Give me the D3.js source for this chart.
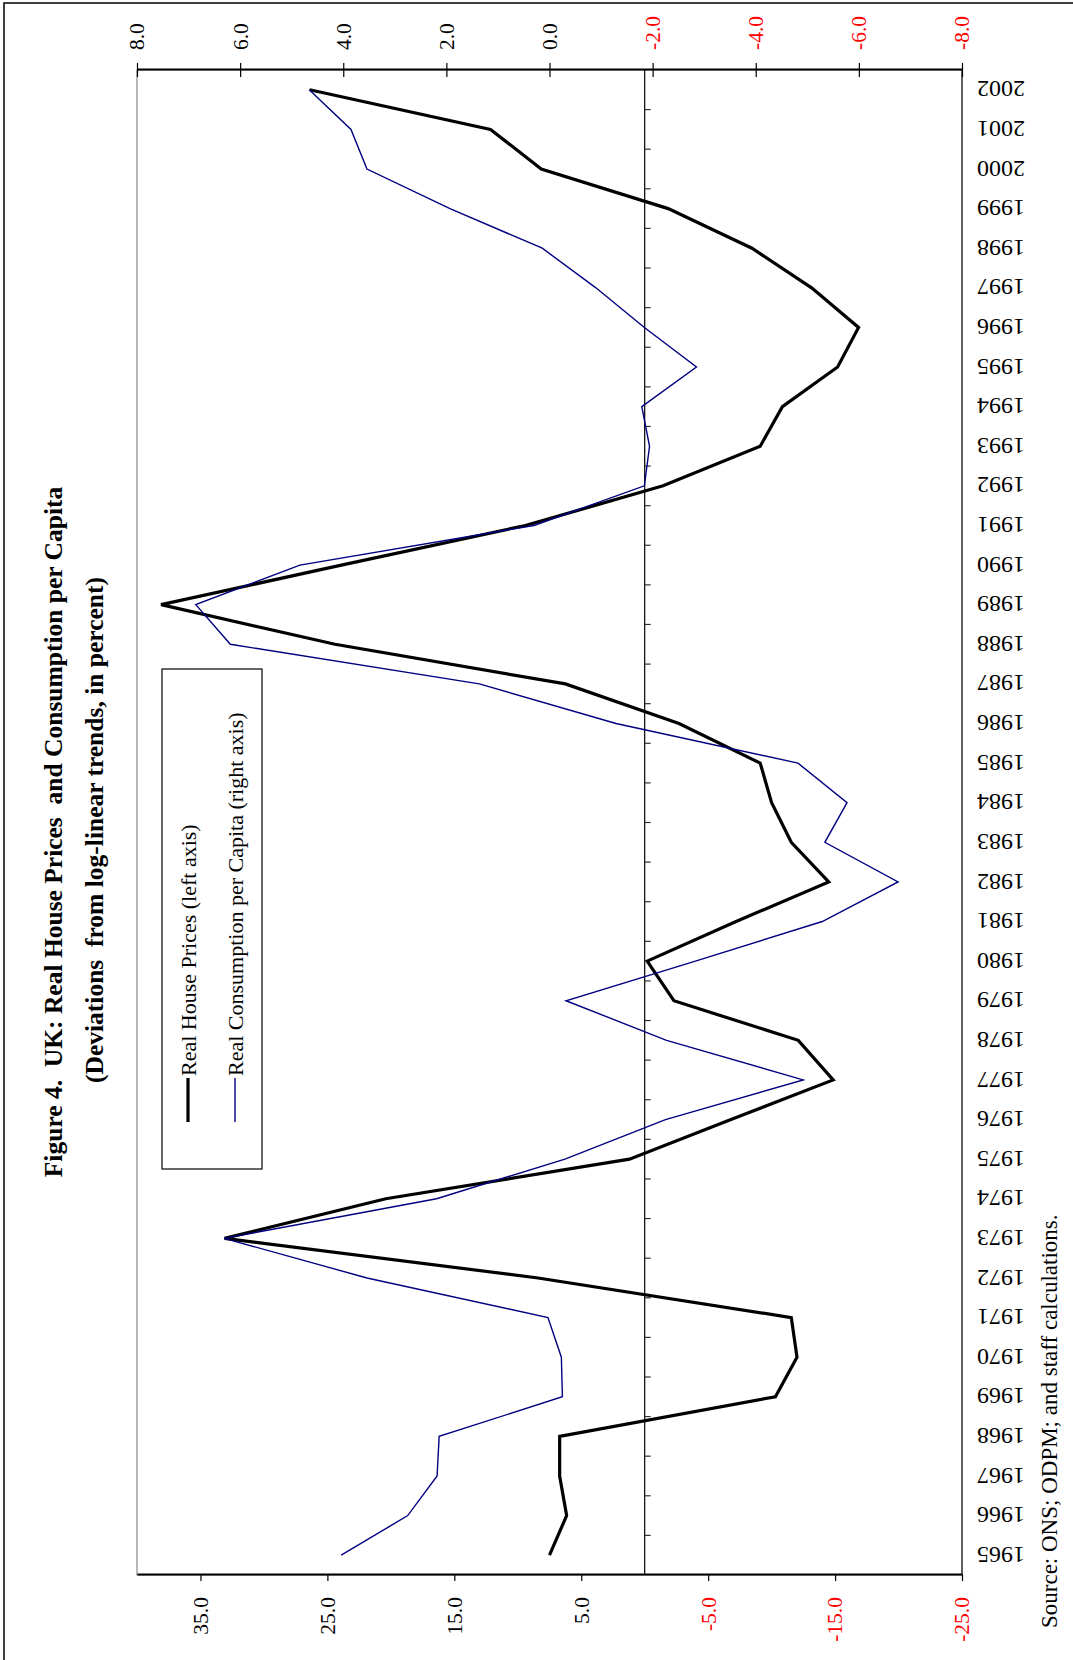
<!DOCTYPE html>
<html>
<head>
<meta charset="utf-8">
<script src="https://cdn.jsdelivr.net/npm/d3@7"></script>
<style>
body { margin: 0; background: #fff; }
text { font-family: "Liberation Serif", "Times New Roman", serif; }
</style>
</head>
<body>
<script>
// years on the category axis
var years = d3.range(1965, 2003);

// real house prices, deviation from trend (left axis)
var housePrices = [7.5, 6.15, 6.7, 6.7, -10.3, -12.0, -11.55, 8.4, 33.1, 20.4,
  1.2, -6.8, -14.85, -12.1, -2.3, -0.2, -7.2, -14.5, -11.55, -10.0,
  -9.1, -2.7, 6.25, 24.4, 38.1, 23.9, 9.4, -1.45, -9.1, -10.85,
  -15.2, -16.85, -13.15, -8.45, -1.85, 8.15, 12.15, 26.4];

// real consumption per capita, deviation from trend (right axis)
var consumption = [4.04, 2.75, 2.18, 2.14, -0.25, -0.23, 0.03, 3.54, 6.31, 2.19,
  -0.3, -2.25, -4.92, -2.27, -0.32, -2.83, -5.29, -6.76, -5.34, -5.77,
  -4.82, -1.29, 1.36, 6.19, 6.86, 4.84, 0.3, -1.84, -1.94, -1.79,
  -2.85, -1.84, -0.9, 0.14, 1.93, 3.54, 3.85, 4.66];

var leftTicks = [35, 25, 15, 5, -5, -15, -25];
var rightTicks = [8, 6, 4, 2, 0, -2, -4, -6, -8];

var width = 1073, height = 1660;
// the chart is laid out landscape, then turned a quarter turn on the page
var W = height, H = width;
var m = {left: 85, right: 70, top: 137, bottom: 111};

var svg = d3.select('body').append('svg')
   .attr('width', width)
   .attr('height', height);

svg.append('rect')
   .attr('x', 4).attr('y', 3)
   .attr('width', width + 20).attr('height', height + 20)
   .attr('fill', 'none').attr('stroke', '#000').attr('stroke-width', 1.5);

var g = svg.append('g')
   .attr('transform', 'translate(0,' + height + ') rotate(-90)');

var x = d3.scaleBand().domain(years).range([m.left, W - m.right]);
var bw = x.bandwidth();
var yL = d3.scaleLinear().domain([-25, 40]).range([H - m.bottom, m.top]);
var yR = d3.scaleLinear().domain([-8, 8]).range([H - m.bottom, m.top]);
function cx(d) { return x(d) + bw / 2; }

// plot frame
g.append('rect')
   .attr('x', m.left).attr('y', m.top)
   .attr('width', W - m.left - m.right).attr('height', H - m.top - m.bottom)
   .attr('fill', '#fff').attr('stroke', '#888').attr('stroke-width', 1.2);
g.append('line')
   .attr('x1', m.left).attr('x2', W - m.right)
   .attr('y1', H - m.bottom).attr('y2', H - m.bottom)
   .attr('stroke', '#444').attr('stroke-width', 1.5);

// zero line with category ticks
g.append('line')
   .attr('x1', m.left).attr('x2', W - m.right)
   .attr('y1', yL(0)).attr('y2', yL(0))
   .attr('stroke', '#000').attr('stroke-width', 1.2);
g.selectAll('line.ytick')
   .data(years.slice(1))
   .enter().append('line')
   .attr('class', 'ytick')
   .attr('x1', function(d) { return x(d); })
   .attr('x2', function(d) { return x(d); })
   .attr('y1', yL(0)).attr('y2', yL(0) + 6)
   .attr('stroke', '#333').attr('stroke-width', 1.2);

// year labels
g.selectAll('text.year')
   .data(years)
   .enter().append('text')
   .attr('class', 'year')
   .attr('transform', function(d) { return 'translate(' + cx(d) + ',' + (H - m.bottom + 15) + ') rotate(-90)'; })
   .attr('text-anchor', 'end')
   .attr('dy', '0.35em')
   .attr('font-size', 24)
   .text(function(d) { return d; });

function fmt(d) { return d.toFixed(1); }
function tickColor(d) { return d < 0 ? '#ff0000' : '#000'; }

// left axis
var axL = g.append('g')
   .attr('transform', 'translate(' + m.left + ',0)')
   .call(d3.axisLeft(yL).tickValues(leftTicks).tickSize(6).tickSizeOuter(0).tickPadding(16).tickFormat(fmt));
axL.select('.domain').attr('stroke', '#000').attr('stroke-width', 2.2);
axL.selectAll('.tick line').attr('stroke', '#000').attr('stroke-width', 1.2);
axL.selectAll('.tick text')
   .attr('font-size', 21.5).attr('font-family', '"Liberation Serif", serif')
   .attr('fill', tickColor);

// right axis
var axR = g.append('g')
   .attr('transform', 'translate(' + (W - m.right) + ',0)')
   .call(d3.axisRight(yR).tickValues(rightTicks).tickSize(7).tickSizeOuter(0).tickPadding(13).tickFormat(fmt));
axR.select('.domain').attr('stroke', '#000').attr('stroke-width', 2.2);
axR.selectAll('.tick line').attr('x1', -7).attr('stroke', '#000').attr('stroke-width', 1.2);
axR.selectAll('.tick text')
   .attr('font-size', 21.5).attr('font-family', '"Liberation Serif", serif')
   .attr('fill', tickColor);

// series
var lineL = d3.line()
   .x(function(d, i) { return cx(years[i]); })
   .y(function(d) { return yL(d); });
var lineR = d3.line()
   .x(function(d, i) { return cx(years[i]); })
   .y(function(d) { return yR(d); });

g.append('path')
   .datum(housePrices)
   .attr('d', lineL)
   .attr('fill', 'none').attr('stroke', '#000').attr('stroke-width', 3.2);
g.append('path')
   .datum(consumption)
   .attr('d', lineR)
   .attr('fill', 'none').attr('stroke', '#000080').attr('stroke-width', 1.4);

// legend
var leg = g.append('g');
leg.append('rect')
   .attr('x', 491).attr('y', 162)
   .attr('width', 500).attr('height', 100)
   .attr('fill', '#fff').attr('stroke', '#000').attr('stroke-width', 1.2);
var legItems = [
  {label: 'Real House Prices (left axis)', color: '#000', w: 3.2},
  {label: 'Real Consumption per Capita (right axis)', color: '#000080', w: 1.4}
];
legItems.forEach(function(d, i) {
   var yy = 188 + i * 47;
   leg.append('line')
      .attr('x1', 538).attr('x2', 582)
      .attr('y1', yy).attr('y2', yy)
      .attr('stroke', d.color).attr('stroke-width', d.w);
   leg.append('text')
      .attr('x', 584).attr('y', yy)
      .attr('dy', '0.35em')
      .attr('font-size', 22)
      .text(d.label);
});

// titles
g.append('text')
   .attr('x', 828).attr('y', 62)
   .attr('text-anchor', 'middle')
   .attr('font-size', 25.5).attr('font-weight', 'bold')
   .attr('xml:space', 'preserve')
   .text('Figure 4.  UK: Real House Prices  and Consumption per Capita');
g.append('text')
   .attr('x', 830).attr('y', 103)
   .attr('text-anchor', 'middle')
   .attr('font-size', 25.5).attr('font-weight', 'bold')
   .attr('xml:space', 'preserve')
   .text('(Deviations  from log-linear trends, in percent)');

g.append('text')
   .attr('x', 32).attr('y', 1057)
   .attr('font-size', 23)
   .text('Source: ONS; ODPM; and staff calculations.');
</script>
</body>
</html>
